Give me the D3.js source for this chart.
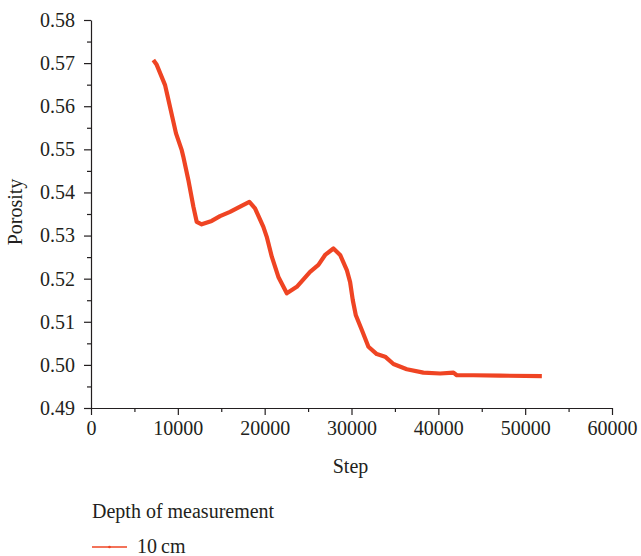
<!DOCTYPE html>
<html>
<head>
<meta charset="utf-8">
<script src="https://cdn.jsdelivr.net/npm/d3@7"></script>
<style>
  body { margin: 0; background: #fff; }
  svg text { font-family: "Liberation Serif", "DejaVu Serif", serif; fill: #231f20; }
  .axis path, .axis line { stroke: #231f20; stroke-width: 1.2; }
</style>
</head>
<body>
<div id="chart"></div>
<script>
// Porosity vs step, depth 10 cm
const steps = [7180, 7570, 8530, 8790, 9790, 10450, 10630, 11210, 11790, 12170, 12750,
  13900, 14860, 16010, 17170, 18240, 18890, 19850, 20240, 20820, 21580, 22550,
  23700, 25230, 26190, 26960, 27920, 28690, 29460, 29840, 30150, 30500, 31190, 31950,
  32910, 33870, 34830, 36370, 38280, 40210, 41740, 42130, 44040, 47120, 51920];
const porosity = [0.5707, 0.5696, 0.5649, 0.5626, 0.5537, 0.5498, 0.5483, 0.5429, 0.5367, 0.5332, 0.5326,
  0.5334, 0.5345, 0.5355, 0.5367, 0.5378, 0.5363, 0.5320, 0.5297, 0.5251, 0.5204, 0.5166,
  0.5181, 0.5216, 0.5232, 0.5255, 0.5270, 0.5255, 0.5220, 0.5192, 0.5150, 0.5115, 0.5081, 0.5042,
  0.5025, 0.5019, 0.5002, 0.4990, 0.4982, 0.4980, 0.4982, 0.4976, 0.4976, 0.4975, 0.4974];
const xTicks = [0, 10000, 20000, 30000, 40000, 50000, 60000];
const yTicks = [0.49, 0.50, 0.51, 0.52, 0.53, 0.54, 0.55, 0.56, 0.57, 0.58];
const legendTitle = "Depth of measurement";
const seriesName = "10\u2009cm";

const width = 641, height = 556;
const margin = { top: 20, right: 29, bottom: 148, left: 91 };
const innerW = width - margin.left - margin.right;
const innerH = height - margin.top - margin.bottom;
const lineColor = "#ef4423";
const fontSize = "20px";

const svg = d3.select("#chart").append("svg")
  .attr("width", width)
  .attr("height", height);

const chart = svg.append("g")
  .attr("transform", `translate(${margin.left},${margin.top})`);

const x = d3.scaleLinear().domain([0, 60000]).range([0, innerW]);
const y = d3.scaleLinear().domain([0.49, 0.58]).range([innerH, 0]);

// minor ticks first so major ones draw on top
const xMinor = d3.range(5000, 60000, 10000);
const yMinor = d3.range(0, 9).map(i => 0.495 + i * 0.01);

chart.append("g")
  .attr("class", "axis")
  .attr("transform", `translate(0,${innerH})`)
  .call(d3.axisBottom(x).tickValues(xMinor).tickSize(4).tickFormat(""))
  .call(g => g.select(".domain").remove());

chart.append("g")
  .attr("class", "axis")
  .call(d3.axisLeft(y).tickValues(yMinor).tickSize(4).tickFormat(""))
  .call(g => g.select(".domain").remove());

const xAxisG = chart.append("g")
  .attr("class", "axis")
  .attr("transform", `translate(0,${innerH})`)
  .call(d3.axisBottom(x).tickValues(xTicks).tickSize(7).tickSizeOuter(0).tickPadding(6).tickFormat(d3.format("d")));

const yAxisG = chart.append("g")
  .attr("class", "axis")
  .call(d3.axisLeft(y).tickValues(yTicks).tickSize(7).tickSizeOuter(0).tickPadding(9).tickFormat(d3.format(".2f")));

xAxisG.selectAll("text").style("font-size", fontSize);
yAxisG.selectAll("text").style("font-size", fontSize);

// axis titles
chart.append("text")
  .attr("x", innerW / 2 - 1)
  .attr("y", innerH + 65)
  .style("text-anchor", "middle")
  .style("font-size", fontSize)
  .text("Step");

chart.append("text")
  .attr("transform", `translate(${-69},${innerH / 2 - 2}) rotate(-90)`)
  .style("text-anchor", "middle")
  .style("font-size", fontSize)
  .text("Porosity");

// series
const points = steps.map((s, i) => ({ step: s, value: porosity[i] }));

chart.append("path")
  .datum(points)
  .attr("fill", "none")
  .attr("stroke", lineColor)
  .attr("stroke-width", 4.2)
  .attr("stroke-linejoin", "round")
  .attr("stroke-linecap", "butt")
  .attr("d", d3.line().x(d => x(d.step)).y(d => y(d.value)));

// legend
const legend = svg.append("g")
  .attr("transform", `translate(${margin.left},0)`);

legend.append("text")
  .attr("x", 1)
  .attr("y", 518)
  .style("font-size", fontSize)
  .text(legendTitle);

legend.append("line")
  .attr("x1", 1).attr("x2", 36)
  .attr("y1", 547).attr("y2", 547)
  .attr("stroke", lineColor)
  .attr("stroke-width", 1.5);

legend.append("circle")
  .attr("cx", 18.5).attr("cy", 547).attr("r", 1.3)
  .attr("fill", lineColor);

legend.append("text")
  .attr("x", 46)
  .attr("y", 553)
  .style("font-size", fontSize)
  .text(seriesName);
</script>
</body>
</html>
